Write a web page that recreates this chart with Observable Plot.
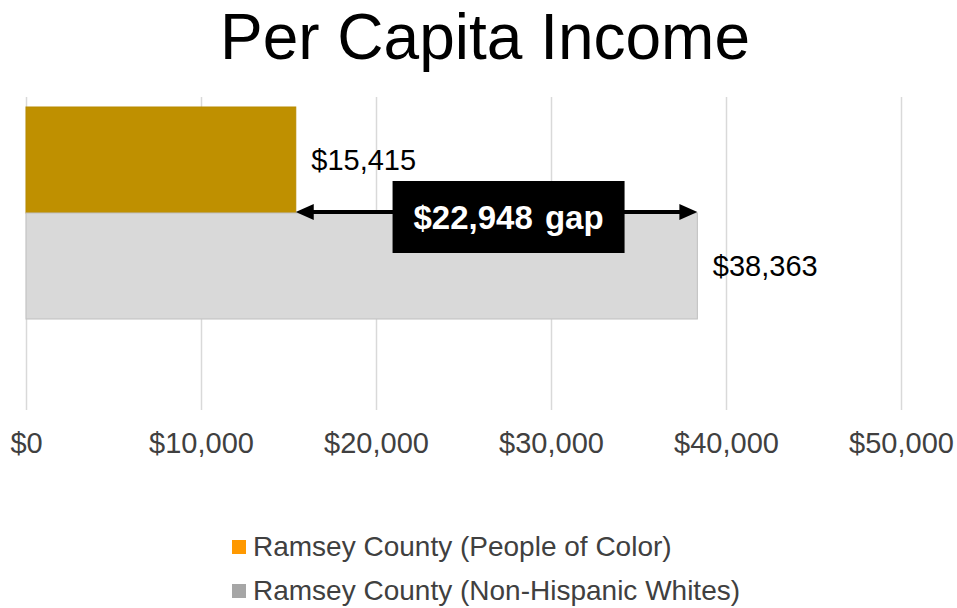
<!DOCTYPE html>
<html>
<head>
<meta charset="utf-8">
<script src="https://cdn.jsdelivr.net/npm/d3@7"></script>
<script src="https://cdn.jsdelivr.net/npm/@observablehq/plot@0.6"></script>
<style>
  html, body { margin: 0; padding: 0; background: #fff; }
  body { width: 957px; height: 608px; overflow: hidden; font-family: "Liberation Sans", Arial, sans-serif; position: relative; }
  #titlewrap { height: 66px; position: relative; }
  #title { position: absolute; top: 0; left: 0; width: 957px; line-height: normal; font-size: 64px; text-align: center; padding-left: 13px; box-sizing: border-box; color: #000; white-space: nowrap; }
  #chart svg { display: block; }
  #legend { padding-top: 15px; padding-left: 232px; }
  .row { height: 44px; line-height: 44px; font-size: 28px; color: #404040; white-space: nowrap; }
  .sw { display: inline-block; width: 14px; height: 14px; margin-right: 7px; vertical-align: middle; position: relative; top: -2px; }
</style>
</head>
<body>
<div id="titlewrap"><div id="title"></div></div>
<div id="chart"></div>
<div id="legend"></div>
<script>
const titleText = "Per Capita Income";
const series = ["Ramsey County (People of Color)", "Ramsey County (Non-Hispanic Whites)"];
const values = [15415, 38363];
const barColors = ["#BF9000", "#D9D9D9"];
const barStrokes = ["#B88A00", "#BFBFBF"];
const legendColors = ["#FF9900", "#A6A6A6"];
const xTicks = [0, 10000, 20000, 30000, 40000, 50000];
const gapLabelSuffix = "gap";

const fmt = d3.format("$,");
const table = series.map((s, i) => ({series: s, value: values[i], fill: barColors[i], stroke: barStrokes[i]}));
const gap = values[1] - values[0];

document.getElementById("title").textContent = titleText;

function gapAnnotation(...args) {
  const scales = args.find(a => a && typeof a.x === "function" && typeof a.y === "function");
  const x = scales.x, y = scales.y;
  const xa = x(values[0]), xb = x(values[1]);
  const yc = y(series[1]) - 1;
  const mid = (xa + xb) / 2 + 12;
  const g = d3.create("svg:g");
  const head = 18, half = 8;
  g.append("line")
    .attr("x1", xa + head - 2).attr("x2", xb - head + 2)
    .attr("y1", yc).attr("y2", yc)
    .attr("stroke", "#000").attr("stroke-width", 4);
  g.append("path")
    .attr("d", `M${xa},${yc}L${xa + head},${yc - half}L${xa + head},${yc + half}Z`)
    .attr("fill", "#000");
  g.append("path")
    .attr("d", `M${xb},${yc}L${xb - head},${yc - half}L${xb - head},${yc + half}Z`)
    .attr("fill", "#000");
  g.append("rect")
    .attr("x", mid - 116).attr("y", yc + 5 - 36)
    .attr("width", 232).attr("height", 72)
    .attr("fill", "#000");
  g.append("text")
    .attr("x", mid).attr("y", yc + 5)
    .attr("text-anchor", "middle")
    .attr("dy", "0.35em")
    .attr("fill", "#fff")
    .attr("font-size", 33)
    .attr("font-weight", "bold")
    .attr("font-family", "'Liberation Sans', Arial, sans-serif")
    .attr("word-spacing", 3)
    .text(`${fmt(gap)} ${gapLabelSuffix}`);
  return g.node();
}

const plot = Plot.plot({
  width: 957,
  height: 444,
  marginTop: 31,
  marginBottom: 100,
  marginLeft: 26,
  marginRight: 56,
  style: {fontFamily: "'Liberation Sans', Arial, sans-serif", background: "#fff", overflow: "visible"},
  x: {domain: [0, 50000], axis: null},
  y: {domain: series, range: [41, 253], padding: 0, axis: null},
  marks: [
    Plot.ruleX(xTicks, {x: d => d, stroke: "#D9D9D9", strokeWidth: 1.5, strokeOpacity: 1}),
    Plot.barX(table, {x: "value", y: "series", fill: "fill", stroke: "stroke", strokeWidth: 1}),
    Plot.text(table, {x: "value", y: "series", text: d => fmt(d.value), textAnchor: "start", dx: 15, fontSize: 29, fill: "#000"}),
    Plot.text(xTicks, {x: d => d, frameAnchor: "bottom", dy: 42, text: d => fmt(d), fontSize: 29, fill: "#404040"}),
    gapAnnotation
  ]
});
document.getElementById("chart").appendChild(plot);

const legend = document.getElementById("legend");
series.forEach((s, i) => {
  const row = document.createElement("div");
  row.className = "row";
  const sw = document.createElement("span");
  sw.className = "sw";
  sw.style.background = legendColors[i];
  row.appendChild(sw);
  row.appendChild(document.createTextNode(s));
  legend.appendChild(row);
});
</script>
</body>
</html>
